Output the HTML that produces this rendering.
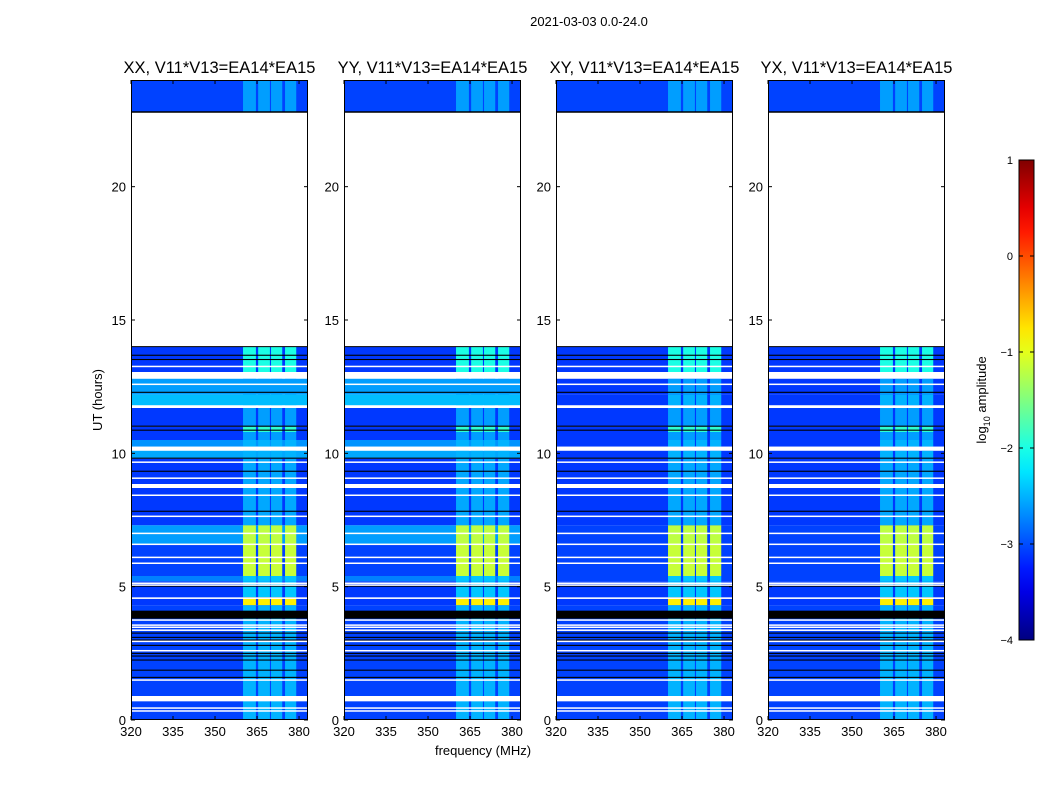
<!DOCTYPE html>
<html><head><meta charset="utf-8">
<style>
body{margin:0;background:#fff;}
svg{display:block;font-family:"Liberation Sans","DejaVu Sans",sans-serif;}
</style></head>
<body>
<svg id="chart" width="1050" height="800" viewBox="0 0 1050 800"></svg>
<script>
// ---- data ----
const panelTitles = ["XX, V11*V13=EA14*EA15","YY, V11*V13=EA14*EA15","XY, V11*V13=EA14*EA15","YX, V11*V13=EA14*EA15"];
const panelIsParallel = [true,true,false,false];
// time segments (hours): start, end, continuum level parallel, continuum level cross, RFI level
const segStart = [22.8, 13.05, 12.2, 11.8, 11.0, 10.8, 10.5, 10.25, 9.8, 7.3, 6.6, 5.4, 5.2, 4.6, 4.3, 0.0];
const segEnd   = [24.0, 14.0, 12.8, 12.2, 11.7, 11.0, 10.8, 10.5, 10.1, 9.8, 7.3, 6.6, 5.4, 5.2, 4.6, 4.3];
const segLevelPar   = [-3.05,-3.1,-2.6,-2.45,-3.1,-3.1,-3.1,-2.65,-2.55,-3.1,-2.6,-3.05,-2.75,-3.1,-3.1,-3.05];
const segLevelCross = [-3.05,-3.1,-3.1,-3.1,-3.1,-3.1,-3.1,-3.1,-3.1,-3.1,-3.05,-3.05,-3.05,-3.1,-3.1,-3.05];
const segRfi = [-2.6,-2.0,-2.6,-2.5,-2.6,-1.9,-2.6,-2.5,-2.5,-2.55,-1.2,-1.15,-2.4,-2.4,-0.8,-2.5];
// RFI channel bands (MHz)
const rfiLo = [360.0, 365.4, 370.0, 375.0];
const rfiHi = [364.6, 369.6, 374.0, 379.0];
// flagged (white) intervals
const flagStart = [14.0, 12.8, 11.7, 10.1, 0.7, 8.7];
const flagEnd   = [22.8, 13.05, 11.8, 10.25, 0.9, 8.85];
// thin white lines (hours)
const whiteLines = [13.26,12.59,9.67,9.07,8.43,7.64,7.0,6.59,6.1,5.88,5.13,5.06,4.57,3.75,3.56,3.48,3.37,2.95,2.6,1.5,0.45,0.34];
// black lines (hours)
const blackLines = [22.78,13.68,13.52,12.29,11.02,10.87,9.82,9.33,7.83,5.02,3.26,3.1,3.0,2.8,2.5,2.4,2.25,1.87,1.6];
const blackStart = [3.8];
const blackEnd = [4.1];
const xTicks = [320,335,350,365,380];
const yTicks = [0,5,10,15,20];
const cbTicks = [1,0,-1,-2,-3,-4];

// ---- layout ----
const svg = document.getElementById('chart');
const NS = 'http://www.w3.org/2000/svg';
const panelX = [131,344,556,768];
const pW = 177, pTop = 80, pBot = 720;
const fMin = 320, fMax = 383.2, tMin = 0, tMax = 24;
const vMin = -4, vMax = 1;
function yScale(h){ return pBot - (h - tMin)/(tMax - tMin)*(pBot - pTop); }
function xScale(x0, f){ return x0 + (f - fMin)/(fMax - fMin)*pW; }
function jet(v){
  const t = Math.max(0, Math.min(1, (v - vMin)/(vMax - vMin)));
  const c = z => Math.round(255*Math.max(0, Math.min(1, z)));
  return `rgb(${c(1.5-Math.abs(4*t-3))},${c(1.5-Math.abs(4*t-2))},${c(1.5-Math.abs(4*t-1))})`;
}
function mk(tag, attrs, parent){
  const e = document.createElementNS(NS, tag);
  for (const k in attrs) e.setAttribute(k, attrs[k]);
  (parent||svg).appendChild(e);
  return e;
}
function txt(s, attrs, parent){ const e = mk('text', attrs, parent); e.textContent = s; return e; }

const sup = txt('2021-03-03 0.0-24.0', {x:589, y:26, 'font-size':13, 'text-anchor':'middle'});



panelX.forEach((x0, p) => {
  const g = mk('g', {});
  
  
  mk('rect', {x:x0, y:pTop, width:pW, height:pBot-pTop, fill:'#fff'}, g);
  for (let i = 0; i < segStart.length; i++) {
    const y1 = yScale(segEnd[i]), y2 = yScale(segStart[i]);
    const lvl = panelIsParallel[p] ? segLevelPar[i] : segLevelCross[i];
    const r = mk('rect', {x:x0, y:y1, width:pW, height:y2-y1, fill:jet(lvl)}, g);
    
    
    for (let b = 0; b < rfiLo.length; b++) {
      const xa = xScale(x0, rfiLo[b]), xb = xScale(x0, rfiHi[b]);
      const rr = mk('rect', {x:xa, y:y1, width:xb-xa, height:y2-y1, fill:jet(Math.max(lvl, segRfi[i]))}, g);
      
      
    }
  }
  for (let i = 0; i < blackStart.length; i++) {
    const y1 = yScale(blackEnd[i]), y2 = yScale(blackStart[i]);
    const r = mk('rect', {x:x0, y:y1, width:pW, height:y2-y1, fill:'#000'}, g);
    
    
  }
  blackLines.forEach(h => {
    const l = mk('rect', {x:x0, y:yScale(h)-0.5, width:pW, height:1.1, fill:'#000'}, g);
    
    
  });
  whiteLines.forEach(h => {
    const l = mk('rect', {x:x0, y:yScale(h)-0.7, width:pW, height:1.5, fill:'#fff'}, g);
    
    
  });
  for (let i = 0; i < flagStart.length; i++) {
    const y1 = yScale(flagEnd[i]), y2 = yScale(flagStart[i]);
    const r = mk('rect', {x:x0, y:y1, width:pW, height:y2-y1, fill:'#fff'}, g);
    
    
  }
  mk('line', {x1:x0, x2:x0+pW, y1:yScale(22.8), y2:yScale(22.8), stroke:'#000', 'stroke-width':1.5}, g);
  mk('line', {x1:x0, x2:x0+pW, y1:yScale(14.0), y2:yScale(14.0), stroke:'#000', 'stroke-width':1}, g);
  mk('rect', {x:x0+0.5, y:pTop+0.5, width:pW-1, height:pBot-pTop-1, fill:'none', stroke:'#000', 'stroke-width':1}, g);
  xTicks.forEach(f => {
    const x = xScale(x0, f);
    mk('line', {x1:x, x2:x, y1:pBot, y2:pBot-4, stroke:'#000'}, g);
    mk('line', {x1:x, x2:x, y1:pTop, y2:pTop+4, stroke:'#000'}, g);
    const t = txt(String(f), {x:x, y:pBot+16, 'font-size':13, 'text-anchor':'middle'}, g);
    
    
  });
  yTicks.forEach(h => {
    const y = yScale(h);
    mk('line', {x1:x0, x2:x0+4, y1:y, y2:y, stroke:'#000'}, g);
    mk('line', {x1:x0+pW, x2:x0+pW-4, y1:y, y2:y, stroke:'#000'}, g);
    const t = txt(String(h), {x:x0-5, y:y+5, 'font-size':13, 'text-anchor':'end'}, g);
    
    
  });
  const tt = txt(panelTitles[p], {x:x0+pW/2, y:73, 'font-size':16.5, 'text-anchor':'middle'}, g);
  
  
});

const yl = txt('UT (hours)', {x:0, y:0, 'font-size':13, 'text-anchor':'middle', transform:'translate(102,400) rotate(-90)'});


const xl = txt('frequency (MHz)', {x:483, y:755, 'font-size':13, 'text-anchor':'middle'});



// colorbar
const cbX = 1019, cbW = 15, cbTop = 160, cbBot = 640;
const defs = mk('defs', {});
const grad = mk('linearGradient', {id:'jetg', x1:0, y1:1, x2:0, y2:0}, defs);
for (let i = 0; i <= 20; i++) {
  mk('stop', {offset:(i/20), 'stop-color':jet(vMin + (vMax-vMin)*i/20)}, grad);
}
const cb = mk('rect', {x:cbX, y:cbTop, width:cbW, height:cbBot-cbTop, fill:'url(#jetg)', stroke:'#000', 'stroke-width':1});


cbTicks.forEach(v => {
  const y = cbBot - (v - vMin)/(vMax - vMin)*(cbBot - cbTop);
  mk('line', {x1:cbX, x2:cbX+4, y1:y, y2:y, stroke:'#000'});
  mk('line', {x1:cbX+cbW, x2:cbX+cbW-4, y1:y, y2:y, stroke:'#000'});
  const t = txt(v < 0 ? '\u2212' + Math.abs(v) : String(v), {x:cbX-6, y:y+4, 'font-size':11, 'text-anchor':'end'});
  
  
});
const cl = mk('text', {x:0, y:0, 'font-size':13, 'text-anchor':'middle', transform:'translate(986,400) rotate(-90)'});
cl.innerHTML = 'log<tspan font-size="9" dy="4">10</tspan><tspan dy="-4"> amplitude</tspan>';


</script>
</body></html>
